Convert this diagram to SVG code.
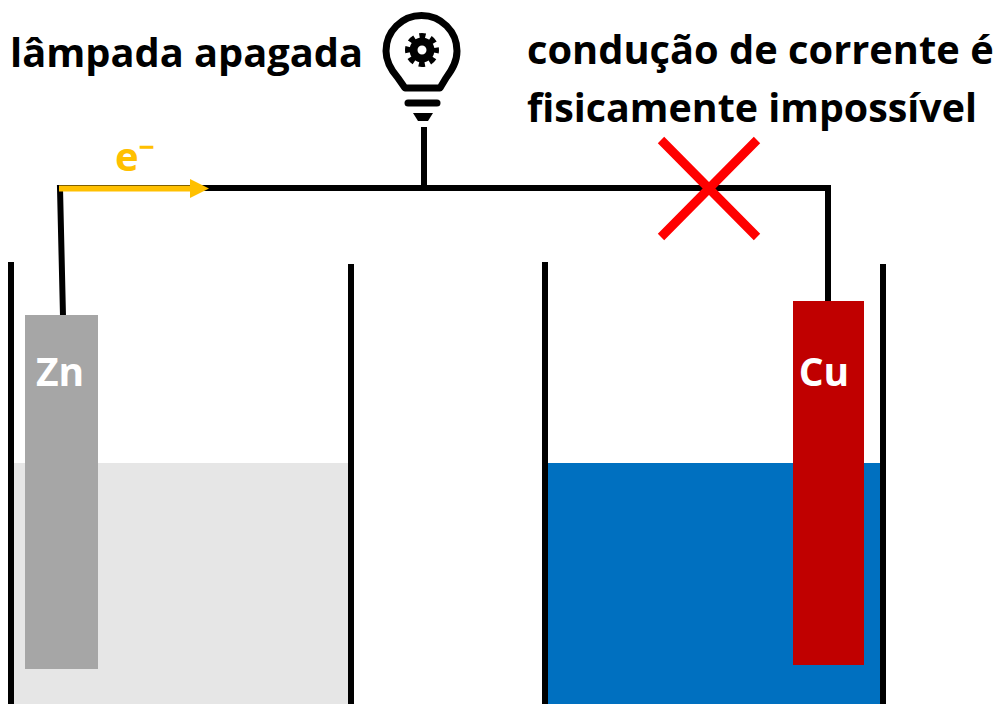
<svg xmlns="http://www.w3.org/2000/svg" width="997" height="704" viewBox="0 0 997 704">
<style>
.w{fill:none;stroke:#000;stroke-width:6}
.t{font-family:"Open Sans","Liberation Sans",sans-serif;font-weight:700;font-size:39.8px;fill:#000}
.l{font-family:"Open Sans","Liberation Sans",sans-serif;font-weight:700;font-size:39px;fill:#fff}
</style>
<rect width="997" height="704" fill="#fff"/>
<g id="solution-left"><rect x="13" y="463" width="337" height="241" fill="#e6e6e6"/></g>
<g id="solution-right"><rect x="548" y="463" width="334" height="241" fill="#0070c0"/></g>
<g id="beaker-left"><path class="w" d="M11 262V704M351 264V704"/></g>
<g id="beaker-right"><path class="w" d="M545 262V704M883 264V704"/></g>
<g id="connectors">
<path class="w" d="M63 316L60 188H828V302"/>
<path class="w" d="M424 188V127"/>
<path d="M59 188.500H192" fill="none" stroke="#ffc000" stroke-width="6"/>
<path d="M190 179L209 188.500L190 198Z" fill="#ffc000"/>
</g>
<g id="zn"><rect x="25" y="315" width="73" height="354" fill="#a6a6a6"/><text class="l" x="60" y="386" text-anchor="middle">Zn</text></g>
<g id="cu"><rect x="793" y="301" width="71" height="364" fill="#c00000"/><text class="l" x="824" y="386" text-anchor="middle">Cu</text></g>
<g id="x"><path d="M661 140L757 237M757 140L661 237" fill="none" stroke="#ff0000" stroke-width="9"/></g>
<g id="lamp">
<path d="M405 88L398 78C391 70 386 62 386 51A35.500 35.500 0 0 1 457 51C457 62 452 70 446 78L440 88Z" fill="none" stroke="#000" stroke-width="7" stroke-linejoin="round"/>
<circle cx="422" cy="50" r="8.500" fill="none" stroke="#000" stroke-width="8"/>
<circle cx="422" cy="50" r="14" fill="none" stroke="#000" stroke-width="6" stroke-dasharray="6 5" stroke-dashoffset="3"/>
<path d="M408 103H437" fill="none" stroke="#000" stroke-width="7" stroke-linecap="round"/>
<path d="M413 113H433L428 121H418Z" fill="#000"/>
</g>
<text class="t" x="10" y="67">lâmpada apagada</text>
<text class="t" x="527" y="64">condução de corrente é</text>
<text class="t" x="527" y="122" textLength="450" lengthAdjust="spacingAndGlyphs">fisicamente impossível</text>
<text x="115" y="171" font-family="Open Sans,Liberation Sans,sans-serif" font-weight="700" font-size="40" fill="#ffc000">e<tspan font-size="28" dy="-14">−</tspan></text>
</svg>
